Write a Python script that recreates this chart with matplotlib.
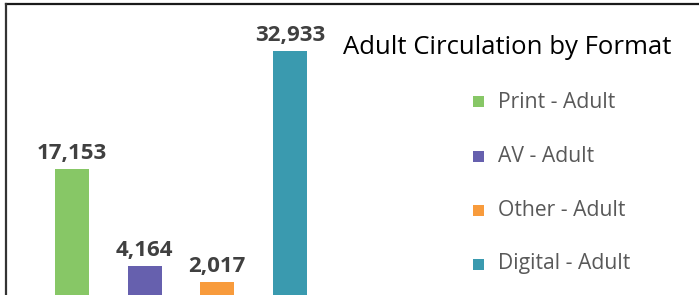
import matplotlib
matplotlib.use("Agg")
import matplotlib.pyplot as plt
from matplotlib.lines import Line2D

categories = ["Print - Adult", "AV - Adult", "Other - Adult", "Digital - Adult"]
values = [17153, 4164, 2017, 32933]
colors = ["#87C766", "#6660AE", "#F89B3C", "#3A9AAF"]
title = "Adult Circulation by Format"

W, H = 699, 295
fig = plt.figure(figsize=(W / 100, H / 100), dpi=100)
fig.patch.set_facecolor("white")

# bars axes spans full figure; mapping chosen to place bars like reference
ax = fig.add_axes([0, 0, 1, 1])
step = 72.67
x0 = 72.0
ax.set_xlim(-x0 / step, (W - x0) / step)
px_per_val = 1 / 133.7
base = 297.3
ax.set_ylim((base - H) / px_per_val, base / px_per_val)
ax.axis("off")

xs = list(range(len(values)))
bars = ax.bar(xs, values, width=34 / step, color=colors)
for x, v in zip(xs, values):
    ax.annotate(f"{v:,}", (x, v), xytext=(0, 5), textcoords="offset pixels",
                ha="center", va="bottom", fontsize=16, fontweight="bold",
                color="#404040", family="Open Sans")

# title
fig.text(343 / W, 1 - 54 / H, title, ha="left", va="baseline", fontsize=18.5,
         color="#000000", family="Open Sans")

# legend
leg_y = [102, 156.5, 210.5, 264]
for c, lab, yy in zip(colors, categories, leg_y):
    fig.patches.append(plt.Rectangle(((473) / W, 1 - (yy + 5.5) / H), 11 / W, 11 / H,
                                     transform=fig.transFigure, facecolor=c,
                                     edgecolor="none", figure=fig))
    fig.text(498 / W, 1 - yy / H, lab, ha="left", va="center", fontsize=15.2,
             color="#595959", family="Open Sans")

# border lines
fig.add_artist(Line2D([6 / W, 1], [1 - 4 / H, 1 - 4 / H], color="#1a1a1a", lw=1.6,
                      transform=fig.transFigure))
fig.add_artist(Line2D([6 / W, 6 / W], [1 - 4 / H, 0], color="#333333", lw=1.6,
                      transform=fig.transFigure))

fig.savefig("out.png", dpi=100)
